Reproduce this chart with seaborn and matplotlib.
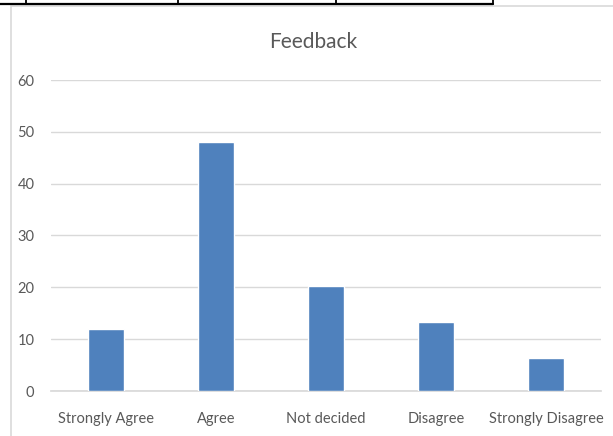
import matplotlib
matplotlib.use("Agg")
import matplotlib.pyplot as plt
import seaborn as sns
import pandas as pd
from matplotlib.patches import Rectangle
from matplotlib.lines import Line2D

categories = ["Strongly Agree", "Agree", "Not decided", "Disagree", "Strongly Disagree"]
values = [11.9, 48, 20.3, 13.4, 6.4]
yticks = [0, 10, 20, 30, 40, 50, 60]
title = "Feedback"

sns.set_theme(style="white")
plt.rcParams['font.family'] = ['Lato', 'DejaVu Sans']

df = pd.DataFrame({"category": categories, "value": values})

W, H = 613, 436
fig = plt.figure(figsize=(W / 100, H / 100), dpi=100)
ax = fig.add_axes([51 / W, 1 - 391 / H, (601 - 51) / W, (391 - 80) / H])

sns.barplot(data=df, x="category", y="value", color="#4F81BD", width=0.32,
            saturation=1, ax=ax, zorder=3)
ax.set_ylim(0, 60)
ax.set_yticks(yticks)
ax.yaxis.grid(True, color="#D9D9D9", linewidth=1, zorder=0)
ax.set_axisbelow(True)
for s in ["top", "right", "left"]:
    ax.spines[s].set_visible(False)
ax.spines["bottom"].set_color("#D9D9D9")
ax.set_xlabel("")
ax.set_ylabel("")
ax.tick_params(axis="x", colors="#595959", labelsize=10.5, length=0, pad=15)
ax.tick_params(axis="y", colors="#595959", labelsize=10.5, length=0, pad=12)
for t in ax.get_xticklabels() + ax.get_yticklabels():
    t.set_color("#595959")

fig.text(313 / W, 1 - 42 / H, title, ha="center", va="center", fontsize=15,
         color="#595959")

# chart frame
fig.add_artist(Rectangle((11 / W, -0.01), (640 - 11) / W, 1 - 6.5 / H + 0.01,
                         transform=fig.transFigure, fill=False,
                         edgecolor="#D9D9D9", linewidth=1.2))
# partial table border above
fig.add_artist(Line2D([0, 493 / W], [1 - 4.5 / H, 1 - 4.5 / H], transform=fig.transFigure,
                      color="black", linewidth=1.6))
for xv in [26, 178, 336, 493]:
    fig.add_artist(Line2D([xv / W, xv / W], [1 - 4.5 / H, 1], transform=fig.transFigure,
                          color="black", linewidth=1.3))

fig.savefig("out.png", dpi=100)
